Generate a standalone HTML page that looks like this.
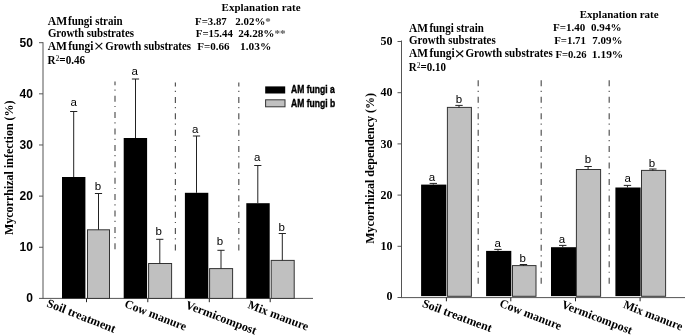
<!DOCTYPE html>
<html><head><meta charset="utf-8"><style>
html,body{margin:0;padding:0;background:#fff;}
svg{display:block;will-change:transform;}
</style></head><body>
<svg width="685" height="336" viewBox="0 0 685 336">
<rect width="685" height="336" fill="#fff"/>
<text x="47.80" y="24.6" font-family='"Liberation Serif", serif' font-size="11.5" font-weight="bold" textLength="19.37" lengthAdjust="spacingAndGlyphs" >AM</text>
<text x="68.00" y="24.6" font-family='"Liberation Serif", serif' font-size="11.5" font-weight="bold" textLength="54.59" lengthAdjust="spacingAndGlyphs" >fungi strain</text>
<text x="47.90" y="37.0" font-family='"Liberation Serif", serif' font-size="11.5" font-weight="bold" textLength="86.15" lengthAdjust="spacingAndGlyphs" >Growth substrates</text>
<text x="47.70" y="50.3" font-family='"Liberation Serif", serif' font-size="11.5" font-weight="bold" textLength="19.27" lengthAdjust="spacingAndGlyphs" >AM</text>
<text x="68.20" y="50.3" font-family='"Liberation Serif", serif' font-size="11.5" font-weight="bold" textLength="25.17" lengthAdjust="spacingAndGlyphs" >fungi</text>
<text x="105.20" y="50.3" font-family='"Liberation Serif", serif' font-size="11.5" font-weight="bold" textLength="85.85" lengthAdjust="spacingAndGlyphs" >Growth substrates</text>
<text x="47.40" y="64.2" font-family='"Liberation Serif", serif' font-size="11.5" font-weight="bold" textLength="37.70" lengthAdjust="spacingAndGlyphs" >R<tspan font-size="8" font-weight="normal" dy="-3.2">2</tspan><tspan dy="3.2">=0.46</tspan></text>
<text x="221.60" y="11.0" font-family='"Liberation Serif", serif' font-size="11" font-weight="bold" textLength="78.96" lengthAdjust="spacingAndGlyphs" >Explanation rate</text>
<text x="195.10" y="24.6" font-family='"Liberation Serif", serif' font-size="11" font-weight="bold" textLength="31.65" lengthAdjust="spacingAndGlyphs" >F=3.87</text>
<text x="235.30" y="24.6" font-family='"Liberation Serif", serif' font-size="11" font-weight="bold" textLength="35.44" lengthAdjust="spacingAndGlyphs" >2.02%<tspan fill="#555">*</tspan></text>
<text x="195.80" y="37.2" font-family='"Liberation Serif", serif' font-size="11" font-weight="bold" textLength="37.05" lengthAdjust="spacingAndGlyphs" >F=15.44</text>
<text x="238.20" y="37.2" font-family='"Liberation Serif", serif' font-size="11" font-weight="bold" textLength="47.46" lengthAdjust="spacingAndGlyphs" >24.28%<tspan fill="#555">**</tspan></text>
<text x="197.30" y="50.4" font-family='"Liberation Serif", serif' font-size="11" font-weight="bold" textLength="32.35" lengthAdjust="spacingAndGlyphs" >F=0.66</text>
<text x="240.07" y="50.4" font-family='"Liberation Serif", serif' font-size="11" font-weight="bold" textLength="31.22" lengthAdjust="spacingAndGlyphs" >1.03%</text>
<text x="291.00" y="93.3" font-family='"Liberation Sans", sans-serif' font-size="10.5" font-weight="bold" textLength="43.73" lengthAdjust="spacingAndGlyphs" stroke="#000" stroke-width="0.4">AM fungi a</text>
<text x="291.00" y="106.8" font-family='"Liberation Sans", sans-serif' font-size="10.5" font-weight="bold" textLength="44.19" lengthAdjust="spacingAndGlyphs" stroke="#000" stroke-width="0.4">AM fungi b</text>
<text x="409.00" y="31.5" font-family='"Liberation Serif", serif' font-size="11.5" font-weight="bold" textLength="18.97" lengthAdjust="spacingAndGlyphs" >AM</text>
<text x="429.40" y="31.5" font-family='"Liberation Serif", serif' font-size="11.5" font-weight="bold" textLength="54.39" lengthAdjust="spacingAndGlyphs" >fungi strain</text>
<text x="409.00" y="44.4" font-family='"Liberation Serif", serif' font-size="11.5" font-weight="bold" textLength="86.75" lengthAdjust="spacingAndGlyphs" >Growth substrates</text>
<text x="409.00" y="57.3" font-family='"Liberation Serif", serif' font-size="11.5" font-weight="bold" textLength="18.97" lengthAdjust="spacingAndGlyphs" >AM</text>
<text x="429.40" y="57.3" font-family='"Liberation Serif", serif' font-size="11.5" font-weight="bold" textLength="25.27" lengthAdjust="spacingAndGlyphs" >fungi</text>
<text x="465.40" y="57.3" font-family='"Liberation Serif", serif' font-size="11.5" font-weight="bold" textLength="87.35" lengthAdjust="spacingAndGlyphs" >Growth substrates</text>
<text x="408.80" y="70.8" font-family='"Liberation Serif", serif' font-size="11.5" font-weight="bold" textLength="37.20" lengthAdjust="spacingAndGlyphs" >R<tspan font-size="8" font-weight="normal" dy="-3.2">2</tspan><tspan dy="3.2">=0.10</tspan></text>
<text x="579.70" y="18.3" font-family='"Liberation Serif", serif' font-size="11" font-weight="bold" textLength="78.96" lengthAdjust="spacingAndGlyphs" >Explanation rate</text>
<text x="553.00" y="31.3" font-family='"Liberation Serif", serif' font-size="11" font-weight="bold" textLength="32.35" lengthAdjust="spacingAndGlyphs" >F=1.40</text>
<text x="591.10" y="31.3" font-family='"Liberation Serif", serif' font-size="11" font-weight="bold" textLength="30.35" lengthAdjust="spacingAndGlyphs" >0.94%</text>
<text x="554.20" y="44.3" font-family='"Liberation Serif", serif' font-size="11" font-weight="bold" textLength="31.75" lengthAdjust="spacingAndGlyphs" >F=1.71</text>
<text x="592.30" y="44.3" font-family='"Liberation Serif", serif' font-size="11" font-weight="bold" textLength="30.15" lengthAdjust="spacingAndGlyphs" >7.09%</text>
<text x="555.40" y="57.7" font-family='"Liberation Serif", serif' font-size="11" font-weight="bold" textLength="31.14" lengthAdjust="spacingAndGlyphs" >F=0.26</text>
<text x="591.86" y="57.7" font-family='"Liberation Serif", serif' font-size="11" font-weight="bold" textLength="31.44" lengthAdjust="spacingAndGlyphs" >1.19%</text>
<path d="M95.5 42.9L102.3 49.3M102.3 42.9L95.5 49.3" stroke="#111" stroke-width="1.1" fill="none"/>
<path d="M456.2 50.5L463.2 57.0M463.2 50.5L456.2 57.0" stroke="#111" stroke-width="1.1" fill="none"/>
<line x1="43.0" y1="42.2" x2="43.0" y2="298.9" stroke="#555" stroke-width="1" />
<line x1="43.0" y1="298.4" x2="313" y2="298.4" stroke="#555" stroke-width="1" />
<line x1="39" y1="298.4" x2="43.0" y2="298.4" stroke="#555" stroke-width="1" />
<text x="32.9" y="302" font-family='"Liberation Sans", sans-serif' font-size="12" font-weight="bold" text-anchor="end" >0</text>
<line x1="39" y1="247.26" x2="43.0" y2="247.26" stroke="#555" stroke-width="1" />
<text x="32.9" y="251" font-family='"Liberation Sans", sans-serif' font-size="12" font-weight="bold" text-anchor="end" >10</text>
<line x1="39" y1="196.11999999999998" x2="43.0" y2="196.11999999999998" stroke="#555" stroke-width="1" />
<text x="32.9" y="200" font-family='"Liberation Sans", sans-serif' font-size="12" font-weight="bold" text-anchor="end" >20</text>
<line x1="39" y1="144.98" x2="43.0" y2="144.98" stroke="#555" stroke-width="1" />
<text x="32.9" y="149" font-family='"Liberation Sans", sans-serif' font-size="12" font-weight="bold" text-anchor="end" >30</text>
<line x1="39" y1="93.83999999999997" x2="43.0" y2="93.83999999999997" stroke="#555" stroke-width="1" />
<text x="32.9" y="98" font-family='"Liberation Sans", sans-serif' font-size="12" font-weight="bold" text-anchor="end" >40</text>
<line x1="39" y1="42.69999999999999" x2="43.0" y2="42.69999999999999" stroke="#555" stroke-width="1" />
<text x="32.9" y="47" font-family='"Liberation Sans", sans-serif' font-size="12" font-weight="bold" text-anchor="end" >50</text>
<line x1="86.5" y1="298.4" x2="86.5" y2="302.2" stroke="#222" stroke-width="1" />
<line x1="147.8" y1="298.4" x2="147.8" y2="302.2" stroke="#222" stroke-width="1" />
<line x1="209.3" y1="298.4" x2="209.3" y2="302.2" stroke="#222" stroke-width="1" />
<line x1="270.2" y1="298.4" x2="270.2" y2="302.2" stroke="#222" stroke-width="1" />
<line x1="115" y1="81.6" x2="115" y2="250.5" stroke="#555" stroke-width="1.2" stroke-dasharray="6 4.2 1.2 5" stroke-dashoffset="2.3"/>
<line x1="175.4" y1="82.5" x2="175.4" y2="250.5" stroke="#555" stroke-width="1.2" stroke-dasharray="6 4.2 1.2 5" stroke-dashoffset="2.0"/>
<line x1="238.8" y1="82.5" x2="238.8" y2="250.5" stroke="#555" stroke-width="1.2" stroke-dasharray="6 4.2 1.2 5" stroke-dashoffset="2.0"/>
<rect x="62" y="177" width="23.4" height="121.39999999999998" fill="#000"/>
<rect x="123.7" y="138" width="23.4" height="160.39999999999998" fill="#000"/>
<rect x="184.9" y="192.8" width="23.4" height="105.59999999999997" fill="#000"/>
<rect x="246.3" y="203.2" width="23.4" height="95.19999999999999" fill="#000"/>
<rect x="87.5" y="229.8" width="22" height="68.59999999999997" fill="#c0c0c0" stroke="#333" stroke-width="1"/>
<rect x="148.6" y="263.5" width="23" height="34.89999999999998" fill="#c0c0c0" stroke="#333" stroke-width="1"/>
<rect x="209.6" y="268.6" width="23" height="29.799999999999955" fill="#c0c0c0" stroke="#333" stroke-width="1"/>
<rect x="271.2" y="260.4" width="23" height="38.0" fill="#c0c0c0" stroke="#333" stroke-width="1"/>
<line x1="73.7" y1="111.5" x2="73.7" y2="177" stroke="#222" stroke-width="1" />
<line x1="70.10000000000001" y1="111.5" x2="77.3" y2="111.5" stroke="#222" stroke-width="1" />
<line x1="135.5" y1="79" x2="135.5" y2="138" stroke="#222" stroke-width="1" />
<line x1="131.9" y1="79" x2="139.1" y2="79" stroke="#222" stroke-width="1" />
<line x1="196.5" y1="136" x2="196.5" y2="192.8" stroke="#222" stroke-width="1" />
<line x1="192.9" y1="136" x2="200.1" y2="136" stroke="#222" stroke-width="1" />
<line x1="257.8" y1="165.5" x2="257.8" y2="203.2" stroke="#222" stroke-width="1" />
<line x1="254.20000000000002" y1="165.5" x2="261.40000000000003" y2="165.5" stroke="#222" stroke-width="1" />
<line x1="98.5" y1="193.5" x2="98.5" y2="229.8" stroke="#222" stroke-width="1" />
<line x1="94.9" y1="193.5" x2="102.1" y2="193.5" stroke="#222" stroke-width="1" />
<line x1="159.8" y1="239.3" x2="159.8" y2="263.7" stroke="#222" stroke-width="1" />
<line x1="156.20000000000002" y1="239.3" x2="163.4" y2="239.3" stroke="#222" stroke-width="1" />
<line x1="221" y1="250.3" x2="221" y2="268.6" stroke="#222" stroke-width="1" />
<line x1="217.4" y1="250.3" x2="224.6" y2="250.3" stroke="#222" stroke-width="1" />
<line x1="282.3" y1="233.5" x2="282.3" y2="260.4" stroke="#222" stroke-width="1" />
<line x1="278.7" y1="233.5" x2="285.90000000000003" y2="233.5" stroke="#222" stroke-width="1" />
<text x="73.75" y="106.0" font-family='"Liberation Sans", sans-serif' font-size="11.5" font-weight="normal" text-anchor="middle" >a</text>
<text x="134.8" y="75.3" font-family='"Liberation Sans", sans-serif' font-size="11.5" font-weight="normal" text-anchor="middle" >a</text>
<text x="195.2" y="133.4" font-family='"Liberation Sans", sans-serif' font-size="11.5" font-weight="normal" text-anchor="middle" >a</text>
<text x="257.1" y="161.1" font-family='"Liberation Sans", sans-serif' font-size="11.5" font-weight="normal" text-anchor="middle" >a</text>
<text x="98" y="190.2" font-family='"Liberation Sans", sans-serif' font-size="11.5" font-weight="normal" text-anchor="middle" >b</text>
<text x="158.75" y="235.3" font-family='"Liberation Sans", sans-serif' font-size="11.5" font-weight="normal" text-anchor="middle" >b</text>
<text x="219.85" y="245.4" font-family='"Liberation Sans", sans-serif' font-size="11.5" font-weight="normal" text-anchor="middle" >b</text>
<text x="281.6" y="231" font-family='"Liberation Sans", sans-serif' font-size="11.5" font-weight="normal" text-anchor="middle" >b</text>
<rect x="265.2" y="86.4" width="20" height="7.1" fill="#000"/>
<rect x="265.6" y="99.8" width="19.4" height="7" fill="#c0c0c0" stroke="#333" stroke-width="1"/>
<text transform="translate(12.6,167.75) rotate(-90)" font-family='"Liberation Serif", serif' font-size="12" font-weight="bold" text-anchor="middle">Mycorrhizal infection (%)</text>
<text transform="translate(46.1,306.2) rotate(21.5)" font-family='"Liberation Serif", serif' font-size="12" font-weight="bold" textLength="72.77" lengthAdjust="spacingAndGlyphs">Soil treatment</text>
<text transform="translate(123.75,306.8) rotate(21.5)" font-family='"Liberation Serif", serif' font-size="12" font-weight="bold" textLength="65.46" lengthAdjust="spacingAndGlyphs">Cow manure</text>
<text transform="translate(184.8,307.9) rotate(21)" font-family='"Liberation Serif", serif' font-size="12" font-weight="bold" textLength="74.96" lengthAdjust="spacingAndGlyphs">Vermicompost</text>
<text transform="translate(246.95,307.8) rotate(21)" font-family='"Liberation Serif", serif' font-size="12" font-weight="bold" textLength="64.09" lengthAdjust="spacingAndGlyphs">Mix manure</text>
<line x1="401.5" y1="40.5" x2="401.5" y2="298.1" stroke="#555" stroke-width="1" />
<line x1="401.5" y1="297.6" x2="685" y2="297.6" stroke="#555" stroke-width="1" />
<line x1="397.5" y1="297.5" x2="401.5" y2="297.5" stroke="#555" stroke-width="1" />
<text x="392.5" y="300" font-family='"Liberation Serif", serif' font-size="12" font-weight="bold" text-anchor="end" >0</text>
<line x1="397.5" y1="246.3" x2="401.5" y2="246.3" stroke="#555" stroke-width="1" />
<text x="392.5" y="250" font-family='"Liberation Serif", serif' font-size="12" font-weight="bold" text-anchor="end" >10</text>
<line x1="397.5" y1="195.1" x2="401.5" y2="195.1" stroke="#555" stroke-width="1" />
<text x="392.5" y="199" font-family='"Liberation Serif", serif' font-size="12" font-weight="bold" text-anchor="end" >20</text>
<line x1="397.5" y1="143.9" x2="401.5" y2="143.9" stroke="#555" stroke-width="1" />
<text x="392.5" y="148" font-family='"Liberation Serif", serif' font-size="12" font-weight="bold" text-anchor="end" >30</text>
<line x1="397.5" y1="92.69999999999999" x2="401.5" y2="92.69999999999999" stroke="#555" stroke-width="1" />
<text x="392.5" y="96" font-family='"Liberation Serif", serif' font-size="12" font-weight="bold" text-anchor="end" >40</text>
<line x1="397.5" y1="41.5" x2="401.5" y2="41.5" stroke="#555" stroke-width="1" />
<text x="392.5" y="45" font-family='"Liberation Serif", serif' font-size="12" font-weight="bold" text-anchor="end" >50</text>
<line x1="446.4" y1="297.6" x2="446.4" y2="301.3" stroke="#222" stroke-width="1" />
<line x1="510.8" y1="297.6" x2="510.8" y2="301.3" stroke="#222" stroke-width="1" />
<line x1="575.5" y1="297.6" x2="575.5" y2="301.3" stroke="#222" stroke-width="1" />
<line x1="640.1" y1="297.6" x2="640.1" y2="301.3" stroke="#222" stroke-width="1" />
<line x1="478.2" y1="80.3" x2="478.2" y2="284.5" stroke="#555" stroke-width="1.2" stroke-dasharray="6 4.4 1.2 4.85"/>
<line x1="541.2" y1="80.3" x2="541.2" y2="284.5" stroke="#555" stroke-width="1.2" stroke-dasharray="6 4.4 1.2 4.85"/>
<line x1="609.2" y1="80.3" x2="609.2" y2="284.5" stroke="#555" stroke-width="1.2" stroke-dasharray="6 4.4 1.2 4.85"/>
<rect x="421.1" y="184.6" width="25.2" height="111.5" fill="#000"/>
<rect x="486.1" y="250.9" width="25.2" height="45.2" fill="#000"/>
<rect x="551" y="247.2" width="25.2" height="48.9" fill="#000"/>
<rect x="615.4" y="187.5" width="25.2" height="108.6" fill="#000"/>
<rect x="447.4" y="107.4" width="24" height="188.9" fill="#c0c0c0" stroke="#333" stroke-width="1"/>
<rect x="512.5" y="265.6" width="23.5" height="30.7" fill="#c0c0c0" stroke="#333" stroke-width="1"/>
<rect x="576.4" y="169.5" width="24.2" height="126.8" fill="#c0c0c0" stroke="#333" stroke-width="1"/>
<rect x="641.5" y="170.4" width="24.1" height="125.9" fill="#c0c0c0" stroke="#333" stroke-width="1"/>
<line x1="433.3" y1="183.4" x2="433.3" y2="184.6" stroke="#222" stroke-width="1" />
<line x1="429.6" y1="183.4" x2="437.0" y2="183.4" stroke="#222" stroke-width="1" />
<line x1="498" y1="249.4" x2="498" y2="250.9" stroke="#222" stroke-width="1" />
<line x1="494.3" y1="249.4" x2="501.7" y2="249.4" stroke="#222" stroke-width="1" />
<line x1="562.75" y1="245.4" x2="562.75" y2="247.2" stroke="#222" stroke-width="1" />
<line x1="559.05" y1="245.4" x2="566.45" y2="245.4" stroke="#222" stroke-width="1" />
<line x1="627.45" y1="185.4" x2="627.45" y2="187.5" stroke="#222" stroke-width="1" />
<line x1="623.75" y1="185.4" x2="631.1500000000001" y2="185.4" stroke="#222" stroke-width="1" />
<line x1="459" y1="105.4" x2="459" y2="107.7" stroke="#222" stroke-width="1" />
<line x1="455.3" y1="105.4" x2="462.7" y2="105.4" stroke="#222" stroke-width="1" />
<line x1="523.45" y1="264.5" x2="523.45" y2="265.8" stroke="#222" stroke-width="1" />
<line x1="519.75" y1="264.5" x2="527.1500000000001" y2="264.5" stroke="#222" stroke-width="1" />
<line x1="588.1" y1="166.5" x2="588.1" y2="169.4" stroke="#222" stroke-width="1" />
<line x1="584.4" y1="166.5" x2="591.8000000000001" y2="166.5" stroke="#222" stroke-width="1" />
<line x1="652.85" y1="169" x2="652.85" y2="170.7" stroke="#222" stroke-width="1" />
<line x1="649.15" y1="169" x2="656.5500000000001" y2="169" stroke="#222" stroke-width="1" />
<text x="432" y="180.8" font-family='"Liberation Sans", sans-serif' font-size="11.5" font-weight="normal" text-anchor="middle" >a</text>
<text x="497.6" y="246.9" font-family='"Liberation Sans", sans-serif' font-size="11.5" font-weight="normal" text-anchor="middle" >a</text>
<text x="561.9" y="243.0" font-family='"Liberation Sans", sans-serif' font-size="11.5" font-weight="normal" text-anchor="middle" >a</text>
<text x="627.7" y="182.3" font-family='"Liberation Sans", sans-serif' font-size="11.5" font-weight="normal" text-anchor="middle" >a</text>
<text x="459" y="103" font-family='"Liberation Sans", sans-serif' font-size="11.5" font-weight="normal" text-anchor="middle" >b</text>
<text x="522.8" y="262" font-family='"Liberation Sans", sans-serif' font-size="11.5" font-weight="normal" text-anchor="middle" >b</text>
<text x="588" y="163.4" font-family='"Liberation Sans", sans-serif' font-size="11.5" font-weight="normal" text-anchor="middle" >b</text>
<text x="651.9" y="166.9" font-family='"Liberation Sans", sans-serif' font-size="11.5" font-weight="normal" text-anchor="middle" >b</text>
<text transform="translate(373.9,168.45) rotate(-90)" font-family='"Liberation Serif", serif' font-size="12" font-weight="bold" text-anchor="middle">Mycorrhizal dependency (%)</text>
<text transform="translate(421.4,306.4) rotate(20.5)" font-family='"Liberation Serif", serif' font-size="12" font-weight="bold" textLength="73.49" lengthAdjust="spacingAndGlyphs">Soil treatment</text>
<text transform="translate(498.85,306.15) rotate(21.5)" font-family='"Liberation Serif", serif' font-size="12" font-weight="bold" textLength="65.46" lengthAdjust="spacingAndGlyphs">Cow manure</text>
<text transform="translate(560.65,307.5) rotate(21)" font-family='"Liberation Serif", serif' font-size="12" font-weight="bold" textLength="74.96" lengthAdjust="spacingAndGlyphs">Vermicompost</text>
<text transform="translate(622.4,307.6) rotate(21.5)" font-family='"Liberation Serif", serif' font-size="12" font-weight="bold" textLength="62.82" lengthAdjust="spacingAndGlyphs">Mix manure</text>
</svg>
</body></html>
